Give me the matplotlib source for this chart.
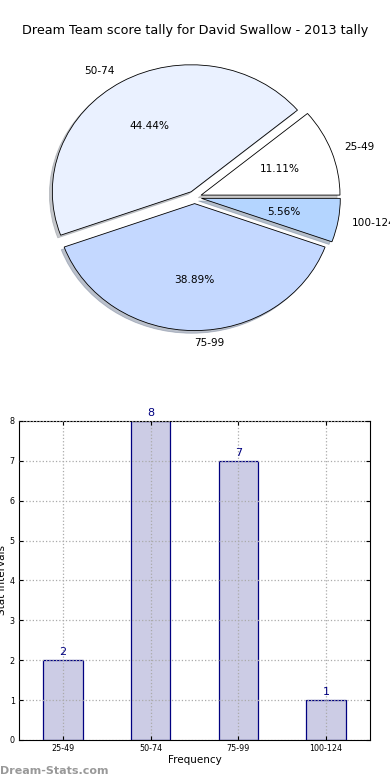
import matplotlib
matplotlib.use("Agg")
import matplotlib.pyplot as plt

# ── Data ──────────────────────────────────────────────────────────────────────
intervals = ["25-49", "50-74", "75-99", "100-124"]
counts = [2, 8, 7, 1]
slice_colours = ["#FFFFFF", "#EAF1FF", "#C4D8FF", "#B4D5FF"]
explode = [0.05, 0.05, 0.05, 0.05]
title = "Dream Team score tally for David Swallow - 2013 tally"

fig = plt.figure(figsize=(3.9, 7.8), dpi=100)

# ── Pie ──────────────────────────────────────────────────────────────────────
ax_pie = fig.add_axes([0.054, 0.5436, 0.89, 0.407])
wedges, texts, autotexts = ax_pie.pie(
    counts, labels=intervals, colors=slice_colours, explode=explode,
    autopct="%.2f%%", startangle=0, labeldistance=1.1,
    shadow=dict(ox=-0.015, oy=-0.015, shade=0.4),
    pctdistance=0.6, wedgeprops=dict(edgecolor="black", linewidth=0.6),
    textprops=dict(fontsize=7.6),
)
ax_pie.set_aspect("auto")
ax_pie.set_xlim(-1.25, 1.25)
ax_pie.set_ylim(-1.25, 1.25)
ax_pie.axis("off")
fig.text(0.5, 0.961, title, ha="center", va="center", fontsize=9.2)

# ── Bars ─────────────────────────────────────────────────────────────────────
ax_bar = fig.add_axes([0.0487, 0.0513, 0.9, 0.409])
pos = list(range(len(intervals)))
ax_bar.bar(pos, counts, width=0.45, color="#CCCCE5", edgecolor="navy",
           linewidth=0.9, zorder=1)
for p, c in zip(pos, counts):
    ax_bar.text(p, c + 0.08, str(c), ha="center", va="bottom",
                color="navy", fontsize=8)
ax_bar.set_xlim(-0.5, 3.5)
ax_bar.set_ylim(0, 8)
ax_bar.set_xticks(pos)
ax_bar.set_xticklabels(intervals)
ax_bar.set_yticks(range(0, 9))
ax_bar.tick_params(labelsize=5.8, length=3, direction="in", pad=3,
                   top=True, right=True)
ax_bar.grid(True, linestyle=":", color="#aaaaaa", linewidth=0.9, zorder=3)
ax_bar.set_axisbelow(False)
ax_bar.set_xlabel("Frequency", fontsize=7.5, labelpad=1)
ax_bar.set_ylabel("Stat Intervals", fontsize=7.5, labelpad=2)

fig.text(0.0, 0.012, "Dream-Stats.com", ha="left", va="center",
         fontsize=8, color="#999999", fontweight="bold")

fig.savefig("out.png", dpi=100)
